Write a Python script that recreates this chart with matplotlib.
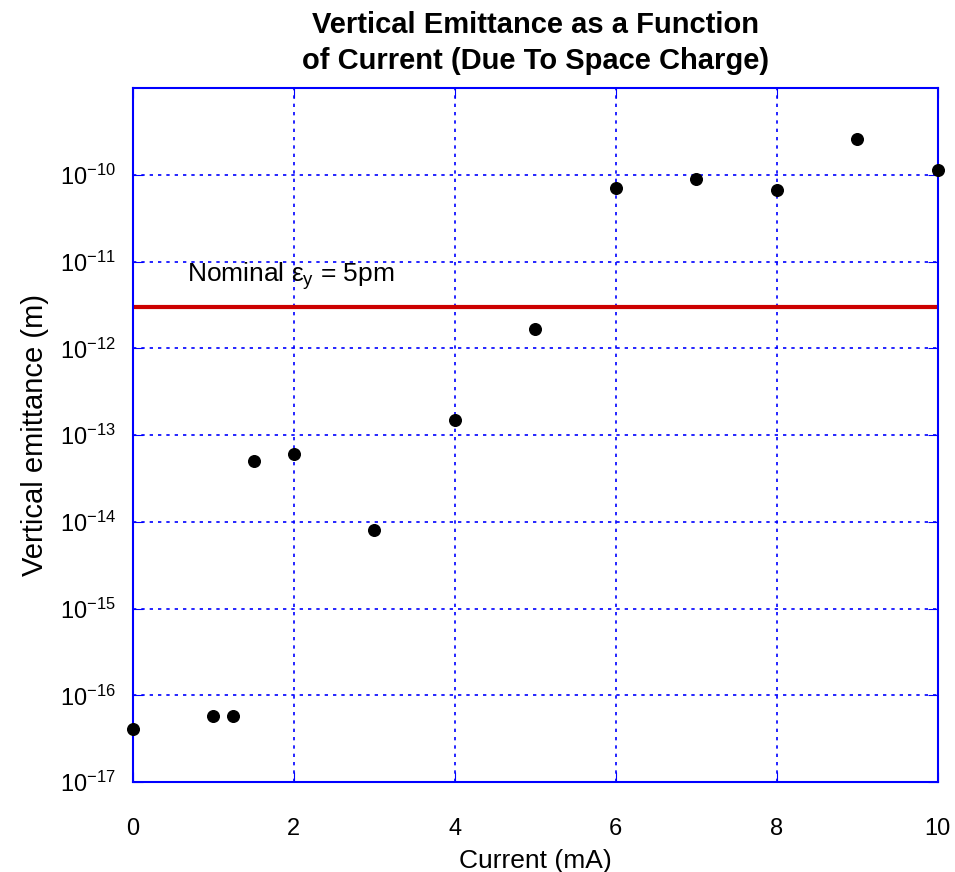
import math
import matplotlib
matplotlib.use("Agg")
import matplotlib.pyplot as plt

plt.rcParams['font.family'] = ['Liberation Sans', 'DejaVu Sans']
plt.rcParams['mathtext.fontset'] = 'custom'
plt.rcParams['mathtext.rm'] = 'Liberation Sans'
plt.rcParams['mathtext.it'] = 'Liberation Sans'

# Data
current = [0, 1, 1.25, 1.5, 2, 3, 4, 5, 6, 7, 8, 9, 10]
emittance = [4.1e-17, 5.8e-17, 5.8e-17, 5.0e-14, 6.1e-14, 8.1e-15, 1.5e-13,
             1.68e-12, 7.1e-11, 9.0e-11, 6.7e-11, 2.6e-10, 1.15e-10]
nominal = 3.0e-12
x_ticks = [0, 2, 4, 6, 8, 10]
y_ticks = [1e-17, 1e-16, 1e-15, 1e-14, 1e-13, 1e-12, 1e-11, 1e-10]

fig = plt.figure(figsize=(9.55, 8.72), dpi=100)
ax = fig.add_axes([0.139, 0.103, 0.843, 0.796])

ax.set_yscale('log')
ax.set_xlim(0, 10)
ax.set_ylim(1e-17, 1e-9)

ax.axhline(nominal, color='#cc0000', lw=3, zorder=2)
ax.scatter(current, emittance, s=70, color='black', zorder=4, clip_on=False)
ax.text(0.67, 6.8e-12, r'Nominal $\varepsilon_y$ = 5pm', fontsize=19, va='center')

ax.set_xticks(x_ticks)
ax.set_xticklabels([str(t) for t in x_ticks])
ax.set_yticks(y_ticks)
ax.set_yticklabels([r'$10^{%d}$' % round(math.log10(t)) for t in y_ticks], fontsize=19)
ax.minorticks_off()
ax.grid(True, color='blue', linestyle=(0, (2, 3)), lw=1.2)
ax.tick_params(direction='in', length=7, color='blue', labelsize=17,
               top=True, right=True)
ax.tick_params(axis='x', pad=26)
ax.tick_params(axis='y', pad=12)
for s in ax.spines.values():
    s.set_color('blue')
    s.set_linewidth(1.5)

ax.set_xlabel('Current (mA)', fontsize=19, labelpad=6)
ax.set_ylabel('Vertical emittance (m)', fontsize=21, labelpad=8)
ax.set_title('Vertical Emittance as a Function\nof Current (Due To Space Charge)',
             fontsize=21, fontweight='bold', pad=14, linespacing=1.35)

fig.savefig('out.png')
